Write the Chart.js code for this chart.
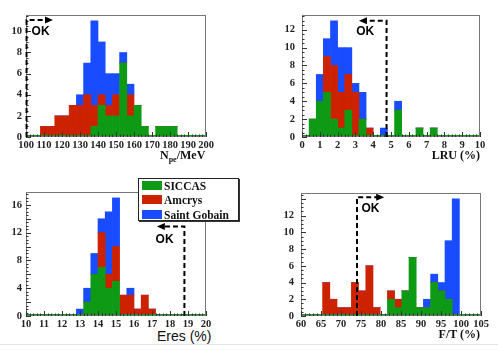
<!DOCTYPE html>
<html lang="en">
<head>
<meta charset="UTF-8">
<title>Crystal quality histograms</title>
<script src="https://cdn.jsdelivr.net/npm/chart.js@4.4.0/dist/chart.umd.min.js"></script>
<style>
  body { margin:0; background:#fff; }
  #page { position:relative; width:498px; height:350px; overflow:hidden; background:#fff; }
  canvas { position:absolute; }
  .axt { position:absolute; font:bold 12px "Liberation Serif", serif; color:#111; white-space:nowrap; line-height:14px; }
  .axt sub { font-size:8px; vertical-align:-3px; line-height:0; }
  #eres { font:14px "Liberation Sans", Arial, sans-serif; background:#fff; padding:0 3px; color:#111; }
  #rule { position:absolute; left:0; top:344px; width:498px; height:1px; background:#e4e4e4; }
  #legend { position:absolute; left:138px; top:178px; width:99px; height:41px; border:1px solid #222;
            box-shadow:1px 1px 0 #333; background:#fff; font:bold 11.5px "Liberation Serif", serif; color:#111; }
  #legend .row { position:absolute; left:3px; height:10px; line-height:10px; white-space:nowrap; }
  #legend .sw { display:inline-block; width:20px; height:9px; vertical-align:top; margin-right:2px; }
</style>
</head>
<body>
<div id="page">
  <div id="rule"></div>
  <canvas id="c1" width="250" height="175" style="left:0;top:0"></canvas>
  <canvas id="c2" width="248" height="175" style="left:250px;top:0"></canvas>
  <canvas id="c3" width="250" height="175" style="left:0;top:175px"></canvas>
  <canvas id="c4" width="248" height="175" style="left:250px;top:175px"></canvas>

  <div class="axt" style="left:160px;top:148px">N<sub>pe</sub>/MeV</div>
  <div class="axt" style="right:18px;top:148px">LRU (%)</div>
  <div class="axt" id="eres" style="left:154px;top:328px">Eres (%)</div>
  <div class="axt" style="right:18px;top:327px">F/T (%)</div>

  <div id="legend"></div>
</div>

<script>
  // ---- data -------------------------------------------------------------
  const seriesNames  = ['SICCAS', 'Amcrys', 'Saint Gobain'];
  const seriesColors = ['#0e9a14', '#cc2200', '#1a4cff'];

  // histogram binning: [low, high, number of bins]
  const npeBins = [100, 200, 25];
  const npeSiccas = [0,0,0,0,0,0,0,0,0,1,3,2,2,7,2,3,1,0,1,1,1,0,0,0,0];
  const npeAmcrys = [0,0,1,1,2,2,3,3,4,2,1,1,2,0,2,0,0,0,0,0,0,0,0,0,0];
  const npeSG     = [0,0,0,0,0,0,0,1,3,8,5,3,2,1,1,0,0,0,0,0,0,0,0,0,0];

  const lruBins = [0, 10, 25];
  const lruSiccas = [0,2,4,5,2,1,3,0,2,0,0,0,0,3,0,0,1,0,1,0,0,0,0,0,0];
  const lruAmcrys = [0,0,0,4,6,4,4,5,0,1,0,0,0,0,0,0,0,0,0,0,0,0,0,0,0];
  const lruSG     = [0,0,3,2,5,5,3,1,3,0,0,1,0,1,0,0,0,0,0,0,0,0,0,0,0];

  const eresBins = [10, 20, 25];
  const eresSiccas = [0,0,0,0,0,0,0,0,2,6,7,4,5,0,0,0,0,0,0,0,0,0,0,0,0];
  const eresAmcrys = [0,0,0,0,0,0,0,0,0,0,5,2,5,3,3,1,3,1,0,0,0,0,0,0,0];
  const eresSG     = [0,0,0,0,0,0,0,1,2,3,2,9,7,0,1,0,0,0,0,0,0,0,0,0,0];

  const ftBins = [60, 105, 25];
  const ftSiccas = [0,0,0,0,0,0,0,0,0,0,0,0,2,1,3,7,1,1,4,3,2,0,0,0,0];
  const ftAmcrys = [0,0,0,4,2,1,1,4,3,6,1,0,1,1,0,0,0,0,0,0,0,0,0,0,0];
  const ftSG     = [0,0,0,0,0,0,0,0,0,0,0,0,0,0,0,0,0,1,1,1,7,14,0,0,0];

  // ---- panels -----------------------------------------------------------
  // box = canvas placement, area = wanted plot frame (page px)
  // ok = cut marker: vertical line at x, top at y, arrow tip at tip; label at (lx, ly)
  const panels = [
    { id:'c1', bins:npeBins,  series:[npeSiccas, npeAmcrys, npeSG],    ymax:11.55, xstep:10, minorX:2,   ypad:4,
      box:{x:0,   y:0,   w:250, h:175}, area:{l:26,  r:206, t:15,  b:137},
      ok:{x:100.3, y:11.07, tip:115,  lx:103.1, ly:9.95} },
    { id:'c2', bins:lruBins,  series:[lruSiccas, lruAmcrys, lruSG],    ymax:13.65, xstep:1,  minorX:0.2, ypad:7,
      box:{x:250, y:0,   w:248, h:175}, area:{l:302, r:480, t:15,  b:137},
      ok:{x:4.75,  y:13.0,  tip:3.2,  lx:3.05,  ly:11.8} },
    { id:'c3', bins:eresBins, series:[eresSiccas, eresAmcrys, eresSG], ymax:17.85, xstep:1,  minorX:0.2, ypad:4,
      box:{x:0,   y:175, w:250, h:175}, area:{l:26,  r:206, t:192, b:316},
      ok:{x:18.8,  y:12.9,  tip:17.27, lx:17.2, ly:11.0} },
    { id:'c4', bins:ftBins,   series:[ftSiccas, ftAmcrys, ftSG],       ymax:14.7,  xstep:5,  minorX:1,   ypad:7,
      box:{x:250, y:175, w:248, h:175}, area:{l:301, r:481, t:193, b:316},
      ok:{x:74,    y:14.2,  tip:80.8, lx:75.1,  ly:12.8} }
  ];

  Chart.defaults.font.family = '"Liberation Serif", "Times New Roman", serif';
  Chart.defaults.font.weight = 'bold';
  const tickFont = { family:'"Liberation Serif", "Times New Roman", serif', weight:'bold', size:10.5 };

  // frame, inward ticks, green zero line and the dashed "OK" cut
  const framePlugin = p => ({
    id: 'frame' + p.id,
    afterDatasetsDraw(chart) {
      const { ctx, chartArea: a } = chart;
      const xs = chart.scales.x, ys = chart.scales.y;
      ctx.save();

      // zero line of the histograms
      ctx.strokeStyle = seriesColors[0];
      ctx.lineWidth = 2;
      ctx.beginPath();
      ctx.moveTo(a.left, a.bottom - 1);
      ctx.lineTo(a.right, a.bottom - 1);
      ctx.stroke();

      // frame
      ctx.strokeStyle = '#777';
      ctx.lineWidth = 1;
      ctx.strokeRect(a.left + 0.5, a.top + 0.5, a.right - a.left - 1, a.bottom - a.top - 1);

      // ticks (inside the frame)
      ctx.strokeStyle = '#333';
      ctx.beginPath();
      for (let v = 0; v <= p.ymax + 1e-9; v += 0.5) {
        const y = Math.round(ys.getPixelForValue(v)) + 0.5;
        const len = v % 2 === 0 ? 5 : 2.5;
        ctx.moveTo(a.left, y); ctx.lineTo(a.left + len, y);
      }
      const [lo, hi] = p.bins;
      for (let k = 0; lo + k * p.minorX <= hi + 1e-9; k++) {
        const v = lo + k * p.minorX;
        const x = Math.round(xs.getPixelForValue(v)) + 0.5;
        const major = Math.abs(v / p.xstep - Math.round(v / p.xstep)) < 1e-6;
        ctx.moveTo(x, a.bottom); ctx.lineTo(x, a.bottom - (major ? 5 : 2.5));
      }
      ctx.stroke();

      // dashed cut with arrow
      const o = p.ok;
      const x0 = xs.getPixelForValue(o.x), yb = ys.getPixelForValue(0);
      const yt = ys.getPixelForValue(o.y), xt = xs.getPixelForValue(o.tip);
      const dir = xt > x0 ? 1 : -1;
      ctx.strokeStyle = '#000';
      ctx.lineWidth = 2;
      ctx.setLineDash([5, 3]);
      ctx.beginPath();
      ctx.moveTo(x0, yb);
      ctx.lineTo(x0, yt);
      ctx.lineTo(xt - dir * 6, yt);
      ctx.stroke();
      ctx.setLineDash([]);
      ctx.fillStyle = '#000';
      ctx.beginPath();
      ctx.moveTo(xt, yt);
      ctx.lineTo(xt - dir * 8, yt - 3.5);
      ctx.lineTo(xt - dir * 8, yt + 3.5);
      ctx.closePath();
      ctx.fill();

      ctx.font = 'bold 12px "Liberation Sans", Arial, sans-serif';
      ctx.textBaseline = 'middle';
      ctx.textAlign = 'left';
      ctx.fillText('OK', xs.getPixelForValue(o.lx), ys.getPixelForValue(o.ly));
      ctx.restore();
    }
  });

  panels.forEach(p => {
    const [lo, hi, n] = p.bins;
    const w = (hi - lo) / n;
    const pts = arr => arr.map((v, i) => ({ x: lo + (i + 0.5) * w, y: v }));
    const box = p.box, area = p.area;

    new Chart(document.getElementById(p.id), {
      type: 'bar',
      data: {
        datasets: p.series.map((s, i) => ({
          label: seriesNames[i], data: pts(s), backgroundColor: seriesColors[i]
        }))
      },
      options: {
        responsive: false,
        animation: false,
        layout: { padding: { left: 0, bottom: 0, top: area.t - box.y, right: box.x + box.w - area.r } },
        datasets: { bar: { barPercentage: 1, categoryPercentage: 1, borderWidth: 0 } },
        plugins: { legend: { display: false }, tooltip: { enabled: false } },
        scales: {
          x: {
            type: 'linear', stacked: true, min: lo, max: hi, offset: false,
            grid: { display: false, drawTicks: false }, border: { display: false },
            ticks: { stepSize: p.xstep, padding: 2, font: tickFont, color: '#222', maxRotation: 0, autoSkip: false },
            afterFit: s => { s.height = box.y + box.h - area.b; }
          },
          y: {
            stacked: true, min: 0, max: p.ymax,
            grid: { display: false, drawTicks: false }, border: { display: false },
            ticks: { stepSize: 2, padding: p.ypad, font: tickFont, color: '#222' },
            afterBuildTicks: s => { s.ticks = s.ticks.filter(t => t.value % 2 === 0); },
            afterFit: s => { s.width = area.l - box.x; }
          }
        }
      },
      plugins: [framePlugin(p)]
    });
  });

  // legend box between the lower panels
  const legend = document.getElementById('legend');
  seriesNames.forEach((name, i) => {
    const row = document.createElement('div');
    row.className = 'row';
    row.style.top = (2 + i * 14.3) + 'px';
    row.innerHTML = '<span class="sw" style="background:' + seriesColors[i] + '"></span>' + name;
    legend.appendChild(row);
  });
</script>
</body>
</html>
